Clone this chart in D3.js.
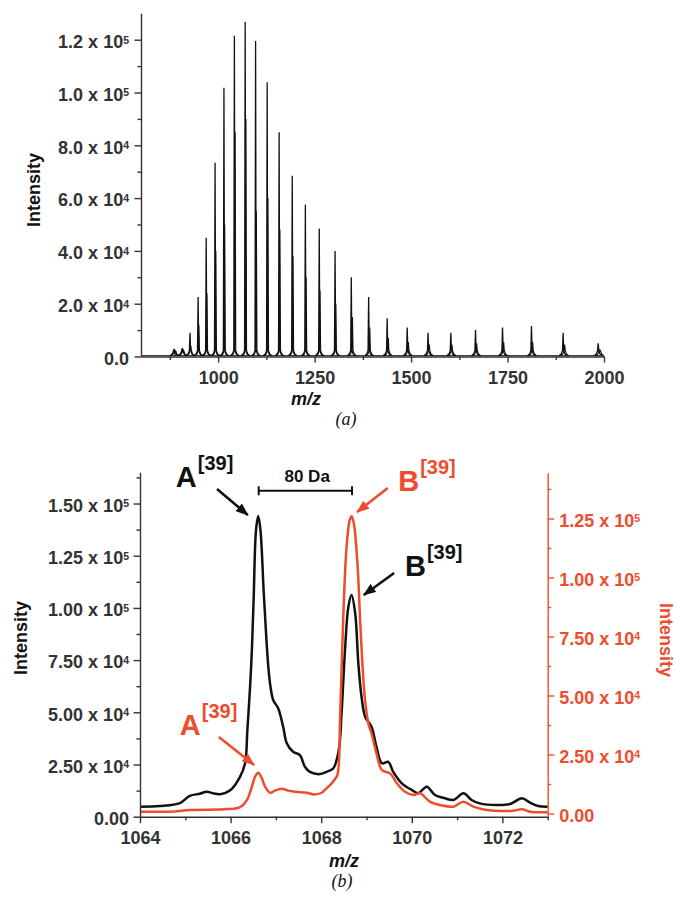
<!DOCTYPE html>
<html>
<head>
<meta charset="utf-8">
<script src="https://cdn.jsdelivr.net/npm/d3@7"></script>
<style>
  body { margin: 0; background: #fff; }
  svg text { font-family: "Liberation Sans", Arial, sans-serif; font-weight: bold; }
  svg text.caption { font-family: "Liberation Serif", "Times New Roman", serif; font-weight: normal; font-style: italic; }
</style>
</head>
<body>
<svg id="chart" width="676" height="897"></svg>
<script>
// Two-panel mass spectrum: (a) full m/z envelope, (b) zoom on the 39+ charge state
// with the second spectrum (red) on its own right-hand axis.

var RED = "#ee4d2d";
var INK = "#111";
var AXIS = "#333";

// ---- (a) peak list: series A and its +80 Da partner B ----
var peakMzA = [886, 907, 927, 948, 969, 992, 1015, 1042, 1070, 1097, 1127, 1158, 1192, 1226, 1262, 1303, 1345, 1390, 1438, 1490, 1544, 1603, 1667, 1737, 1812, 1894, 1985];
var peakIntA = [1200, 3200, 9000, 22500, 45000, 73400, 101800, 121500, 126700, 119500, 103900, 84900, 68500, 57500, 48500, 40000, 30000, 22500, 14500, 11000, 9000, 9000, 10000, 11000, 11500, 9000, 5000];
var peakMzB = [888, 909, 929, 950, 971, 994, 1017, 1044, 1072, 1099, 1129, 1160, 1194, 1228, 1264, 1305, 1348, 1393, 1441, 1493, 1547, 1606, 1670, 1740, 1815, 1898, 1989];
var peakIntB = [500, 1500, 4000, 12000, 24000, 40000, 50000, 85000, 90000, 55000, 60000, 48000, 38000, 30000, 25000, 20000, 15000, 11000, 7000, 5500, 4500, 4500, 5000, 5500, 5500, 4500, 2500];
var baselineA = 300;

var topXMajor = [1000, 1250, 1500, 1750, 2000];
var topXMinor = [875, 1125, 1375, 1625, 1875];
var topYMajor = [0, 20000, 40000, 60000, 80000, 100000, 120000];
var topYMinor = [10000, 30000, 50000, 70000, 90000, 110000];

// ---- (b) zoomed traces ----
var blackMz = [1064.0, 1064.44, 1064.88, 1065.1, 1065.32, 1065.47, 1065.6, 1065.77, 1066.0, 1066.21, 1066.32, 1066.37, 1066.43, 1066.47, 1066.51, 1066.56, 1066.61, 1066.66, 1066.73, 1066.79, 1066.84, 1066.88, 1066.94, 1067.05, 1067.16, 1067.24, 1067.38, 1067.53, 1067.64, 1067.75, 1067.97, 1068.12, 1068.27, 1068.34, 1068.40, 1068.45, 1068.53, 1068.60, 1068.67, 1068.75, 1068.82, 1068.89, 1068.97, 1069.11, 1069.22, 1069.34, 1069.48, 1069.59, 1069.78, 1070.0, 1070.14, 1070.33, 1070.51, 1070.73, 1070.92, 1071.14, 1071.32, 1071.5, 1071.87, 1072.17, 1072.43, 1072.61, 1072.79, 1073.0];
var blackInt = [4800, 5100, 6500, 10000, 11000, 12000, 11300, 10800, 12800, 19200, 25600, 41500, 62300, 80000, 105000, 137000, 144000, 137000, 108000, 85000, 70000, 62300, 55900, 51900, 43100, 35200, 31100, 29500, 23900, 21500, 20400, 21500, 23200, 27100, 33500, 49500, 81400, 100600, 106200, 97400, 73500, 57500, 47900, 43100, 33500, 25600, 26300, 21500, 16000, 12800, 11200, 14400, 10400, 8800, 8000, 11200, 8000, 6400, 5600, 6100, 8800, 6700, 5100, 4800];

var redMz = [1064.0, 1064.73, 1065.1, 1065.84, 1066.2, 1066.36, 1066.47, 1066.54, 1066.61, 1066.69, 1066.76, 1066.87, 1066.98, 1067.13, 1067.27, 1067.45, 1067.68, 1067.83, 1068.01, 1068.12, 1068.23, 1068.30, 1068.36, 1068.42, 1068.49, 1068.56, 1068.63, 1068.67, 1068.72, 1068.80, 1068.87, 1068.96, 1069.04, 1069.11, 1069.22, 1069.34, 1069.52, 1069.67, 1069.85, 1070.04, 1070.18, 1070.4, 1070.62, 1070.92, 1071.14, 1071.36, 1071.65, 1072.24, 1072.43, 1072.61, 1073.0];
var redInt = [800, 800, 1500, 1800, 2600, 5700, 11400, 15600, 17300, 14900, 11400, 8800, 9700, 10500, 9700, 9200, 8800, 8100, 8800, 10700, 12800, 14500, 16500, 42500, 84800, 113000, 124400, 126000, 123000, 106000, 77700, 49500, 38200, 34000, 25500, 18400, 17000, 12800, 9200, 7800, 8600, 5000, 3600, 2900, 5000, 2900, 1500, 1200, 1800, 760, 500];

var botXMajor = [1064, 1066, 1068, 1070, 1072];
var botXMinor = [1065, 1067, 1069, 1071, 1073];
var leftMajor = [0, 25000, 50000, 75000, 100000, 125000, 150000];
var leftMinor = [12500, 37500, 62500, 87500, 112500, 137500, 162500];
var rightMajor = [0, 25000, 50000, 75000, 100000, 125000];
var rightMinor = [12500, 37500, 62500, 87500, 112500, 137500];

var svg = d3.select("#chart");

var defs = svg.append("defs");
[["head-black", INK], ["head-red", RED]].forEach(function (m) {
  defs.append("marker")
    .attr("id", m[0])
    .attr("markerUnits", "userSpaceOnUse")
    .attr("markerWidth", 13).attr("markerHeight", 10)
    .attr("refX", 12).attr("refY", 5)
    .attr("orient", "auto")
    .append("path").attr("d", "M0,0 L13,5 L0,10 Z").attr("fill", m[1]);
});

// tick labels of the form "1.2 x 10^5"
function sciLabels(g, decimals) {
  g.selectAll(".tick text").each(function (d) {
    var t = d3.select(this).text(null).attr("dy", "0.43em");
    if (d === 0) { t.text((0).toFixed(decimals)); return; }
    var e = Math.floor(Math.log10(d) + 1e-9);
    t.text((d / Math.pow(10, e)).toFixed(decimals) + " x 10");
    t.append("tspan").attr("dy", "-0.42em").style("font-size", "10.5px").text(e);
  });
}

function styleAxis(g, color) {
  g.attr("font-size", null).attr("font-family", null);
  g.select(".domain").attr("stroke", color).attr("stroke-width", 1.4);
  g.selectAll(".tick line").attr("stroke", color).attr("stroke-width", 1.4);
  g.selectAll(".tick text").attr("fill", color).style("font-size", "18px");
}

function minorAxis(axis, vals) {
  return axis.tickValues(vals).tickSize(3.5).tickSizeOuter(0).tickFormat("");
}

// ================= panel (a) =================
var xT = d3.scaleLinear().domain([800, 2000]).range([141, 604]);
var yT = d3.scaleLinear().domain([0, 130000]).range([356.5, 13.3]);

var gTop = svg.append("g");

var lineT = d3.line();
gTop.append("path")
  .attr("d", lineT([[xT(800), yT(baselineA)], [xT(2000), yT(baselineA)]]))
  .attr("fill", "none").attr("stroke", INK).attr("stroke-width", 1);

// each peak: a narrow spike on a small foot (offsets in px, lifts in counts)
var spikeShape = [[-4, 0], [-1.8, 700], [-0.6, 2000], [0, null], [0.6, 2000], [1.8, 700], [4, 0]];
function spike(mz, h) {
  return lineT(spikeShape.map(function (s) {
    return s[1] === null ? [xT(mz), yT(h)] : [xT(mz) + s[0], yT(baselineA + s[1])];
  }));
}
gTop.selectAll("path.peakB")
  .data(d3.zip(peakMzB, peakIntB))
  .join("path").attr("class", "peakB")
  .attr("d", function (d) { return spike(d[0], d[1]); })
  .attr("fill", "none").attr("stroke", INK).attr("stroke-width", 1.1);
gTop.selectAll("path.peakA")
  .data(d3.zip(peakMzA, peakIntA))
  .join("path").attr("class", "peakA")
  .attr("d", function (d) { return spike(d[0], d[1]); })
  .attr("fill", "none").attr("stroke", INK).attr("stroke-width", 1.3);

var gxT = gTop.append("g").attr("transform", "translate(0," + yT(0) + ")");
gxT.append("g").call(d3.axisBottom(xT).tickValues(topXMajor).tickSize(6).tickSizeOuter(0).tickPadding(8.7).tickFormat(d3.format("d")))
  .call(function (g) { styleAxis(g, AXIS); });
gxT.append("g").call(minorAxis(d3.axisBottom(xT), topXMinor))
  .call(function (g) { styleAxis(g, AXIS); g.select(".domain").remove(); });

var gyT = gTop.append("g").attr("transform", "translate(" + xT(800) + ",0)");
gyT.append("g").call(d3.axisLeft(yT).tickValues(topYMajor).tickSize(6.5).tickSizeOuter(0).tickPadding(5.5))
  .call(function (g) { styleAxis(g, AXIS); sciLabels(g, 1); });
gyT.append("g").call(minorAxis(d3.axisLeft(yT), topYMinor))
  .call(function (g) { styleAxis(g, AXIS); g.select(".domain").remove(); });

gTop.append("text").attr("transform", "translate(40,190) rotate(-90)")
  .attr("text-anchor", "middle").style("font-size", "18px").attr("fill", INK).text("Intensity");
gTop.append("text").attr("x", 306).attr("y", 405)
  .attr("text-anchor", "middle").style("font-size", "18px").style("font-style", "italic").attr("fill", INK).text("m/z");
svg.append("text").attr("class", "caption").attr("x", 346).attr("y", 425)
  .attr("text-anchor", "middle").style("font-size", "18px").attr("fill", INK).text("(a)");

// ================= panel (b) =================
var xB = d3.scaleLinear().domain([1064, 1073]).range([140, 547.7]);
var yL = d3.scaleLinear().domain([0, 165000]).range([816.7, 472.2]);
var yR = d3.scaleLinear().domain([-1350, 144400]).range([816.7, 472.7]);

var gBot = svg.append("g");

var lineBlack = d3.line().curve(d3.curveCatmullRom.alpha(0.5))
  .x(function (d) { return xB(d[0]); }).y(function (d) { return yL(d[1]); });
var lineRed = d3.line().curve(d3.curveCatmullRom.alpha(0.5))
  .x(function (d) { return xB(d[0]); }).y(function (d) { return yR(d[1]); });

gBot.append("path").datum(d3.zip(blackMz, blackInt))
  .attr("d", lineBlack).attr("fill", "none").attr("stroke", INK).attr("stroke-width", 2.5)
  .attr("stroke-linejoin", "round");
gBot.append("path").datum(d3.zip(redMz, redInt))
  .attr("d", lineRed).attr("fill", "none").attr("stroke", RED).attr("stroke-width", 2.5)
  .attr("stroke-linejoin", "round");

var gxB = gBot.append("g").attr("transform", "translate(0," + yL(0) + ")");
gxB.append("g").call(d3.axisBottom(xB).tickValues(botXMajor).tickSize(6.5).tickSizeOuter(0).tickPadding(8.5).tickFormat(d3.format("d")))
  .call(function (g) { styleAxis(g, AXIS); });
gxB.append("g").call(minorAxis(d3.axisBottom(xB), botXMinor))
  .call(function (g) { styleAxis(g, AXIS); g.select(".domain").remove(); });

var gyL = gBot.append("g").attr("transform", "translate(" + xB(1064) + ",0)");
gyL.append("g").call(d3.axisLeft(yL).tickValues(leftMajor).tickSize(6.5).tickSizeOuter(0).tickPadding(4.5))
  .call(function (g) { styleAxis(g, AXIS); sciLabels(g, 2); });
gyL.append("g").call(minorAxis(d3.axisLeft(yL), leftMinor))
  .call(function (g) { styleAxis(g, AXIS); g.select(".domain").remove(); });

var gyR = gBot.append("g").attr("transform", "translate(" + xB(1073) + ",0)");
gyR.append("g").call(d3.axisRight(yR).tickValues(rightMajor).tickSize(6.5).tickSizeOuter(0).tickPadding(5))
  .call(function (g) { styleAxis(g, RED); sciLabels(g, 2); });
gyR.append("g").call(minorAxis(d3.axisRight(yR), rightMinor))
  .call(function (g) { styleAxis(g, RED); g.select(".domain").remove(); });

gBot.append("text").attr("transform", "translate(26.5,638) rotate(-90)")
  .attr("text-anchor", "middle").style("font-size", "18px").attr("fill", INK).text("Intensity");
gBot.append("text").attr("transform", "translate(660,640) rotate(90)")
  .attr("text-anchor", "middle").style("font-size", "18px").attr("fill", RED).text("Intensity");
gBot.append("text").attr("x", 344).attr("y", 867)
  .attr("text-anchor", "middle").style("font-size", "18px").style("font-style", "italic").attr("fill", INK).text("m/z");
svg.append("text").attr("class", "caption").attr("x", 342).attr("y", 887)
  .attr("text-anchor", "middle").style("font-size", "18px").attr("fill", INK).text("(b)");

// 80 Da spacing bar between the two 39+ peaks
var barMz = [1066.62, 1068.68];
var barInt = 156100;
gBot.append("path")
  .attr("d", "M" + xB(barMz[0]) + "," + (yL(barInt) - 4.5) + "v9" +
             "M" + xB(barMz[0]) + "," + yL(barInt) + "H" + xB(barMz[1]) +
             "M" + xB(barMz[1]) + "," + (yL(barInt) - 4.5) + "v9")
  .attr("fill", "none").attr("stroke", INK).attr("stroke-width", 2);
gBot.append("text").attr("x", xB(1067.69)).attr("y", yL(160400))
  .attr("text-anchor", "middle").style("font-size", "17px").attr("fill", INK).text("80 Da");

// peak labels (left scale used for placement only)
var labels = [
  { name: "A", mz: 1064.79, val: 157900, color: INK },
  { name: "B", mz: 1069.70, val: 156000, color: RED },
  { name: "B", mz: 1069.85, val: 115300, color: INK },
  { name: "A", mz: 1064.88, val: 39100, color: RED }
];
labels.forEach(function (l) {
  var t = gBot.append("text").attr("x", xB(l.mz)).attr("y", yL(l.val))
    .attr("fill", l.color).style("font-size", "29px").text(l.name);
  t.append("tspan").attr("dx", 1).attr("dy", -17).style("font-size", "20px").text("[39]");
});

var arrows = [
  { from: [1065.70, 156900], to: [1066.38, 144500], color: INK, head: "head-black" },
  { from: [1069.47, 157400], to: [1068.79, 145900], color: RED, head: "head-red" },
  { from: [1069.61, 116700], to: [1068.94, 106200], color: INK, head: "head-black" },
  { from: [1065.74, 38200], to: [1066.52, 24800], color: RED, head: "head-red" }
];
gBot.selectAll("line.arrow").data(arrows).join("line").attr("class", "arrow")
  .attr("x1", function (d) { return xB(d.from[0]); })
  .attr("y1", function (d) { return yL(d.from[1]); })
  .attr("x2", function (d) { return xB(d.to[0]); })
  .attr("y2", function (d) { return yL(d.to[1]); })
  .attr("stroke", function (d) { return d.color; })
  .attr("stroke-width", 2.6)
  .attr("marker-end", function (d) { return "url(#" + d.head + ")"; });
</script>
</body>
</html>
